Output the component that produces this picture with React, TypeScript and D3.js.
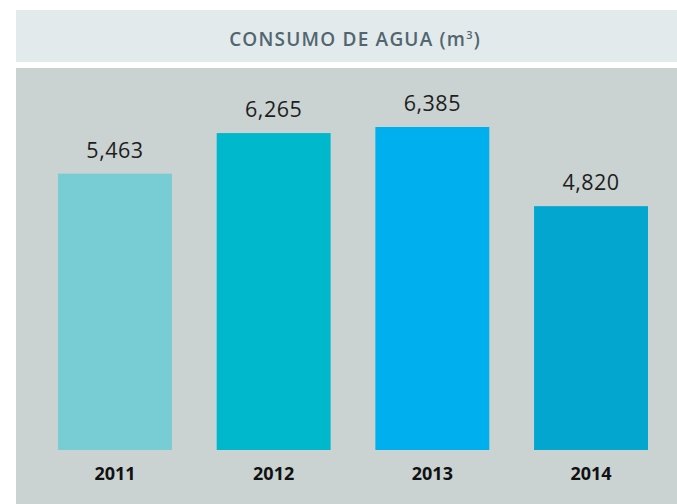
import React from "react";
import * as d3 from "d3";

const years = ["2011", "2012", "2013", "2014"];
const values = [5463, 6265, 6385, 4820];
const valueLabels = ["5,463", "6,265", "6,385", "4,820"];
const barColors = ["#78cdd4", "#00b8cc", "#00b0ee", "#03a6cf"];
const title = "CONSUMO DE AGUA (m";

export default function App() {
  const W = 677;
  const H = 504;
  const x = d3.scaleBand<string>().domain(years).range([58, 648]).paddingInner(0.282).paddingOuter(0);
  const y = d3.scaleLinear().domain([0, 6385]).range([450, 127]);

  return (
    <svg width={W} height={H} style={{ position: "absolute", left: 0, top: 0 }} fontFamily="'Open Sans', sans-serif">
      <rect x={0} y={0} width={W} height={H} fill="#ffffff" />
      <rect x={16} y={10} width={W - 16} height={52} fill="#e3eaec" />
      <text x={355} y={46} textAnchor="middle" fontSize={19} fontWeight={600} letterSpacing={1.2} fill="#51666f">
        {title}
        <tspan fontSize={11} dy={-7}>3</tspan>
        <tspan dy={7}>)</tspan>
      </text>
      <rect x={16} y={68} width={W - 16} height={H - 68} fill="#cad3d2" />
      {years.map((yr, i) => {
        const bx = x(yr) as number;
        const bw = x.bandwidth();
        const top = y(values[i]);
        return (
          <g key={yr}>
            <rect x={bx} y={top} width={bw} height={y(0) - top} fill={barColors[i]} />
            <text x={bx + bw / 2} y={top - 16} textAnchor="middle" fontSize={21.5} letterSpacing={0.5} fill="#1e1e1e">
              {valueLabels[i]}
            </text>
            <text x={bx + bw / 2} y={480} textAnchor="middle" fontSize={18} fontWeight={700} fill="#111111">
              {yr}
            </text>
          </g>
        );
      })}
    </svg>
  );
}
